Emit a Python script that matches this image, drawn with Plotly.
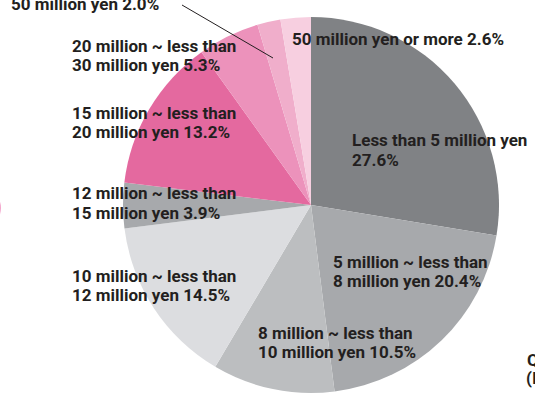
import plotly.graph_objects as go

W, H = 535, 398

# ---- data ----
categories = [
    "Less than 5 million yen",
    "5 million ~ less than 8 million yen",
    "8 million ~ less than 10 million yen",
    "10 million ~ less than 12 million yen",
    "12 million ~ less than 15 million yen",
    "15 million ~ less than 20 million yen",
    "20 million ~ less than 30 million yen",
    "30 million ~ less than 50 million yen",
    "50 million yen or more",
]
values = [27.6, 20.4, 10.5, 14.5, 3.9, 13.2, 5.3, 2.0, 2.6]
colors = ["#808285", "#a7a9ac", "#bcbec0", "#dcdde0", "#a7a9ac",
          "#e4699f", "#ec92bb", "#f0aecb", "#f7cfe0"]

# label lines: first line, second-line prefix (value appended)
label_line1 = ["Less than 5 million yen", "5 million ~ less than", "8 million ~ less than",
               "10 million ~ less than", "12 million ~ less than", "15 million ~ less than",
               "20 million ~ less than", "30 million ~ less than", ""]
label_line2 = ["", "8 million yen", "10 million yen", "12 million yen", "15 million yen",
               "20 million yen", "30 million yen", "50 million yen", "50 million yen or more"]

# label positions in pixels (left x, line1 center y, line2 center y)
label_pos = [
    (350, 140, 160),
    (331, 262, 281),
    (256, 333, 352),
    (70, 276, 295),
    (70, 193, 213),
    (70, 113, 132),
    (70, 46, 65),
    (9, -15, 4),
    (290, 39, 39),
]

def px(x):
    return x / W

def py(y):
    return 1 - y / H

cx, cy, r = 311, 205, 188

fig = go.Figure()
fig.add_trace(go.Pie(
    labels=categories,
    values=values,
    sort=False,
    direction="clockwise",
    rotation=0,
    marker=dict(colors=colors, line=dict(width=0)),
    textinfo="none",
    hoverinfo="label+percent",
    showlegend=False,
    domain=dict(x=[px(cx - r), px(cx + r)], y=[py(cy + r), py(cy - r)]),
))

font = dict(family="Roboto", size=17, color="#231f20", weight="bold")
ann = []
for l1, l2, v, (x, y1, y2) in zip(label_line1, label_line2, values, label_pos):
    if l1:
        ann.append(dict(x=px(x), y=py(y1), xref="paper", yref="paper", text=l1,
                        showarrow=False, xanchor="left", yanchor="middle", font=font))
    t2 = f"{l2} {v:.1f}%" if l2 else f"{v:.1f}%"
    ann.append(dict(x=px(x), y=py(y2), xref="paper", yref="paper", text=t2,
                    showarrow=False, xanchor="left", yanchor="middle", font=font))

# cropped text at bottom right
ann.append(dict(x=px(525), y=py(360), xref="paper", yref="paper", text="Q",
                showarrow=False, xanchor="left", yanchor="middle", font=font))
ann.append(dict(x=px(524), y=py(378), xref="paper", yref="paper", text="(I",
                showarrow=False, xanchor="left", yanchor="middle", font=font))

shapes = [
    dict(type="line", xref="paper", yref="paper", x0=px(182), y0=py(5), x1=px(273), y1=py(58),
         line=dict(color="#231f20", width=1)),
    dict(type="circle", xref="paper", yref="paper", x0=px(-80), y0=py(180), x1=px(1.0), y1=py(236),
         line=dict(width=0), fillcolor="#f3a6cc"),
]

fig.update_layout(
    width=W, height=H,
    margin=dict(l=0, r=0, t=0, b=0),
    paper_bgcolor="white", plot_bgcolor="white",
    annotations=ann, shapes=shapes,
)

fig.write_html("out.html")
